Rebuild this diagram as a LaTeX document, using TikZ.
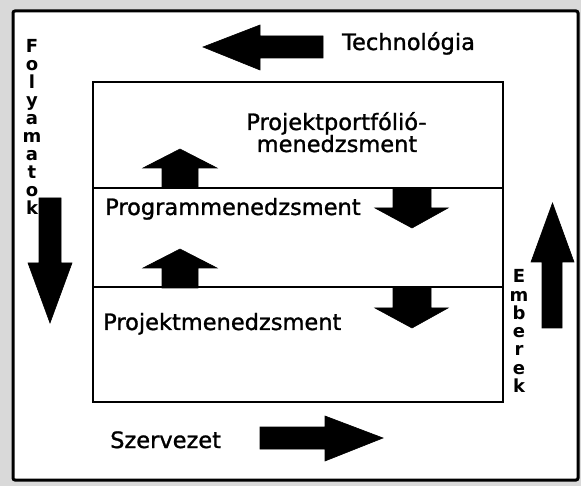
\documentclass[tikz,border=0pt]{standalone}
\usepackage{fontspec}
\setmainfont{DejaVu Sans}
\newfontfamily\heavylabel[FakeBold=1.2]{DejaVu Sans}
\begin{document}
\begin{tikzpicture}[x=1pt,y=-1pt,
  blockarrow/.style={fill=black,draw=black,line width=0.6pt,line join=miter},
  label/.style={font=\heavylabel\fontsize{22.5}{26}\selectfont,inner sep=0pt,anchor=base},
  labelw/.style={label,anchor=base west},
  vletter/.style={font=\bfseries\fontsize{18}{20}\selectfont,inner sep=0pt,anchor=base}]
\useasboundingbox (0,0) rectangle (581,486);
% paper margin and outer frame
\fill[gray!30] (0,0) rectangle (581,486);
\fill[white] (13,11) rectangle (578,480);
\draw[line width=3pt,rounded corners=2pt] (13,11) rectangle (578,480);

% the three management levels
\draw[line width=2.8pt] (93,82) rectangle (503,402);
\draw[line width=2.5pt] (93,188) -- (503,188);
\draw[line width=2.5pt] (93,287) -- (503,287);

% level labels
\node[label] (pf1) at (336.5,130) {Projektportfólió-};
\node[label] (pf2) at (337,152) {menedzsment};
\node[labelw] (prog) at (105,215) {Programmenedzsment};
\node[labelw] (proj) at (103,330) {Projektmenedzsment};

% upward arrows between levels
\foreach \d in {0,100}
  \fill[blockarrow] (180,149+\d) -- (143,168+\d) -- (162,168+\d) -- (162,188+\d)
    -- (198,188+\d) -- (198,168+\d) -- (217,168+\d) -- cycle;
% downward arrows between levels
\fill[blockarrow] (412,228) -- (375,208) -- (393,208) -- (393,189) -- (431,189)
  -- (431,208) -- (448,208) -- cycle;
\fill[blockarrow] (412,328) -- (375,308) -- (393,308) -- (393,288) -- (431,288)
  -- (431,308) -- (448,308) -- cycle;

% Technológia (top, pointing left)
\node[label] (tech) at (408.5,50) {Technológia};
\fill[blockarrow] (203,47) -- (260,25) -- (260,36) -- (323,36) -- (323,58)
  -- (260,58) -- (260,70) -- cycle;

% Szervezet (bottom, pointing right)
\node[labelw] (org) at (110,448) {Szervezet};
\fill[blockarrow] (383,438) -- (325,416) -- (325,427) -- (260,427) -- (260,449)
  -- (325,449) -- (325,461) -- cycle;

% Folyamatok (left, pointing down)
\foreach \c [count=\i from 0] in {F,o,l,y,a,m,a,t,o,k}
  \node[vletter] (fol\i) at (32,53+18*\i) {\c};
\fill[blockarrow] (50,323) -- (28,263) -- (39,263) -- (39,198) -- (61,198)
  -- (61,263) -- (72,263) -- cycle;

% Emberek (right, pointing up)
\foreach \c [count=\i from 0] in {E,m,b,e,r,e,k}
  \node[vletter] (emb\i) at (519,283+18.2*\i) {\c};
\fill[blockarrow] (552.5,203) -- (531,262) -- (542,262) -- (542,328) -- (562,328)
  -- (562,262) -- (574,262) -- cycle;
\end{tikzpicture}
\end{document}
